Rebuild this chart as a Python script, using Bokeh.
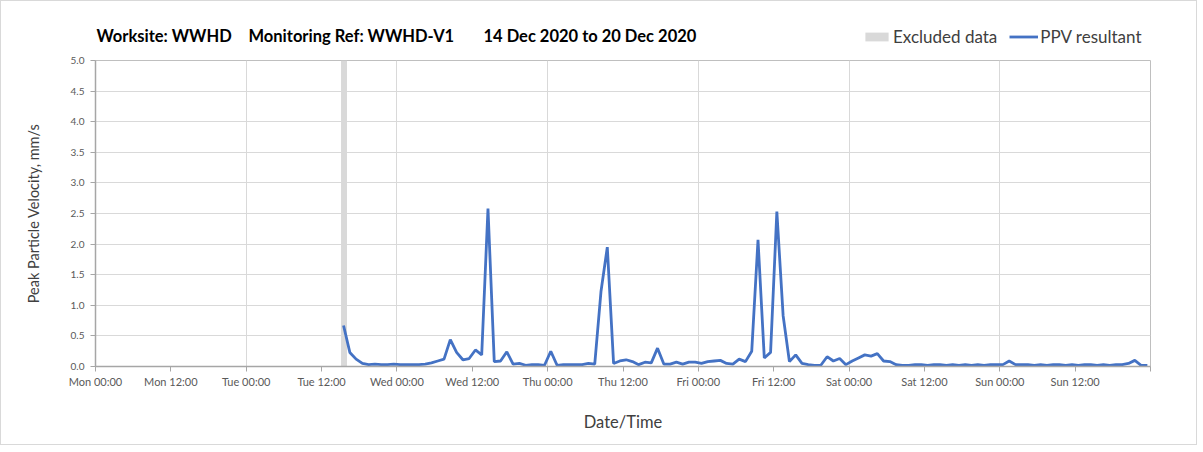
import pandas as pd
from bokeh.plotting import figure
from bokeh.layouts import column
from bokeh.models import Range1d, FixedTicker, Legend, LegendItem, Label
from bokeh.embed import file_html
from bokeh.resources import INLINE

# ---- data ----
title_parts = ["Worksite: WWHD", "Monitoring Ref: WWHD-V1",
               "14 Dec 2020 to 20 Dec 2020"]
week_start = "2020-12-14 00:00"
first_sample = "2020-12-15 15:30"
ppv = [0.67, 0.23, 0.12, 0.05, 0.03, 0.04, 0.03, 0.03, 0.04, 0.03,
       0.03, 0.03, 0.03, 0.04, 0.06, 0.09, 0.12, 0.44, 0.23, 0.11,
       0.13, 0.27, 0.19, 2.58, 0.08, 0.09, 0.24, 0.04, 0.05, 0.02,
       0.03, 0.03, 0.02, 0.25, 0.02, 0.03, 0.03, 0.03, 0.03, 0.05,
       0.04, 1.23, 1.95, 0.05, 0.09, 0.11, 0.08, 0.03, 0.07, 0.06,
       0.30, 0.04, 0.04, 0.07, 0.04, 0.07, 0.07, 0.05, 0.08, 0.09,
       0.10, 0.05, 0.04, 0.12, 0.08, 0.25, 2.07, 0.14, 0.23, 2.53,
       0.83, 0.08, 0.19, 0.05, 0.03, 0.02, 0.02, 0.16, 0.09, 0.13,
       0.03, 0.09, 0.14, 0.19, 0.17, 0.21, 0.09, 0.08, 0.03,
       0.02, 0.02, 0.03, 0.03, 0.02, 0.03, 0.03, 0.02, 0.03, 0.02,
       0.03, 0.02, 0.03, 0.02, 0.03, 0.03, 0.03,
       0.09,
       0.03, 0.03, 0.03, 0.02, 0.03, 0.02, 0.03, 0.03, 0.02, 0.03,
       0.02, 0.03, 0.03, 0.02, 0.03, 0.02, 0.03, 0.03, 0.05,
       0.10, 0.02, 0.02]
excluded_start = "2020-12-15 15:06"
excluded_end = "2020-12-15 16:03"
tick_labels = ["Mon 00:00", "Mon 12:00", "Tue 00:00", "Tue 12:00",
               "Wed 00:00", "Wed 12:00", "Thu 00:00", "Thu 12:00",
               "Fri 00:00", "Fri 12:00", "Sat 00:00", "Sat 12:00",
               "Sun 00:00", "Sun 12:00"]
y_ticks = [0.0, 0.5, 1.0, 1.5, 2.0, 2.5, 3.0, 3.5, 4.0, 4.5, 5.0]
legend_labels = ["Excluded data", "PPV resultant"]

t0 = pd.Timestamp(week_start)
times = pd.date_range(first_sample, periods=len(ppv), freq="h")
hours = list((times - t0) / pd.Timedelta(hours=1))
ex_l = (pd.Timestamp(excluded_start) - t0) / pd.Timedelta(hours=1)
ex_r = (pd.Timestamp(excluded_end) - t0) / pd.Timedelta(hours=1)

FONT = "Lato"
BLUE = "#4472c4"
GREY_BAND = "#d9d9d9"
W = 1195
BL, BR = 94, 46          # main plot side borders (header frame aligns to them)
FW = W - BL - BR         # frame width in px
HH = 52                  # header height
MH = 391                 # main plot height
NAN = float("nan")

# ---- header (title + legend), frame aligned with the main frame ----
hdr = figure(width=W, height=HH, output_backend="svg", toolbar_location=None,
             x_range=Range1d(0, FW), y_range=Range1d(0, HH),
             x_axis_location=None, y_axis_location=None,
             min_border_left=BL, min_border_right=BR, min_border_top=0,
             min_border_bottom=0, outline_line_color=None)
hdr.grid.visible = False
hdr.title = None
for txt, xpos in zip(title_parts, [1, 153, 388]):
    hdr.add_layout(Label(x=xpos, y=18, text=txt, text_font=FONT,
                         text_font_size="16.5px", text_font_style="bold",
                         text_color="#000000", text_baseline="middle"))
# legend proxies (no visible marks)
proxy_band = hdr.quad(left=[NAN], right=[NAN], bottom=[NAN], top=[NAN],
                      fill_color=GREY_BAND, line_color=None)
proxy_line = hdr.line(x=[NAN], y=[NAN], line_color=BLUE, line_width=2.8)
legend = Legend(items=[LegendItem(label=legend_labels[0], renderers=[proxy_band]),
                       LegendItem(label=legend_labels[1], renderers=[proxy_line])],
                location=(767, 6), orientation="horizontal",
                border_line_color=None, background_fill_alpha=0,
                padding=0, margin=0, spacing=12, glyph_width=29,
                glyph_height=11, label_height=18, label_standoff=2,
                label_text_font=FONT, label_text_font_size="17px",
                label_text_color="#404040")
hdr.add_layout(legend)

# ---- main chart ----
p = figure(width=W, height=MH, output_backend="svg", toolbar_location=None,
           x_range=Range1d(0, 168), y_range=Range1d(0, 5),
           min_border_left=BL, min_border_right=BR, min_border_top=7,
           min_border_bottom=78)
p.title = None

band = p.quad(left=[ex_l], right=[ex_r], bottom=[0], top=[5],
              fill_color=GREY_BAND, line_color=None)
line = p.line(hours, ppv, line_color=BLUE, line_width=2.8)

xt = list(range(0, 169, 12))
p.xaxis.ticker = FixedTicker(ticks=xt)
ov = {h: lab for h, lab in zip(xt, tick_labels)}
ov[168] = ""
p.xaxis.major_label_overrides = ov
p.xaxis.axis_label = "Date/Time"
p.yaxis.ticker = FixedTicker(ticks=y_ticks)
p.yaxis.major_label_overrides = {v: f"{v:.1f}" for v in y_ticks}
p.yaxis.axis_label = "Peak Particle Velocity, mm/s"

for ax in (p.xaxis[0], p.yaxis[0]):
    ax.axis_line_color = "#a6a6a6"
    ax.axis_line_width = 1.5
    ax.major_tick_line_color = "#a6a6a6"
    ax.major_tick_out = 5
    ax.major_tick_in = 0
    ax.minor_tick_line_color = None
    ax.major_label_text_font = FONT
    ax.major_label_text_color = "#595959"
    ax.axis_label_text_font = FONT
    ax.axis_label_text_font_style = "normal"
    ax.axis_label_text_color = "#404040"
p.xaxis.major_label_text_font_size = "11px"
p.xaxis.major_label_standoff = 3
p.xaxis.axis_label_text_font_size = "16.5px"
p.xaxis.axis_label_standoff = 21
p.yaxis.major_label_text_font_size = "10px"
p.yaxis.major_label_standoff = 6
p.yaxis.axis_label_text_font_size = "14.5px"
p.yaxis.axis_label_standoff = 26

p.xgrid.ticker = FixedTicker(ticks=list(range(0, 169, 24)))
p.xgrid.grid_line_color = "#d9d9d9"
p.ygrid.grid_line_color = "#d9d9d9"
p.ygrid.grid_line_width = 1.2
p.outline_line_color = "#bfbfbf"

page = column(hdr, p, spacing=0, styles={"border": "1px solid #d9d9d9"})

open("out.html", "w").write(file_html(page, INLINE))
